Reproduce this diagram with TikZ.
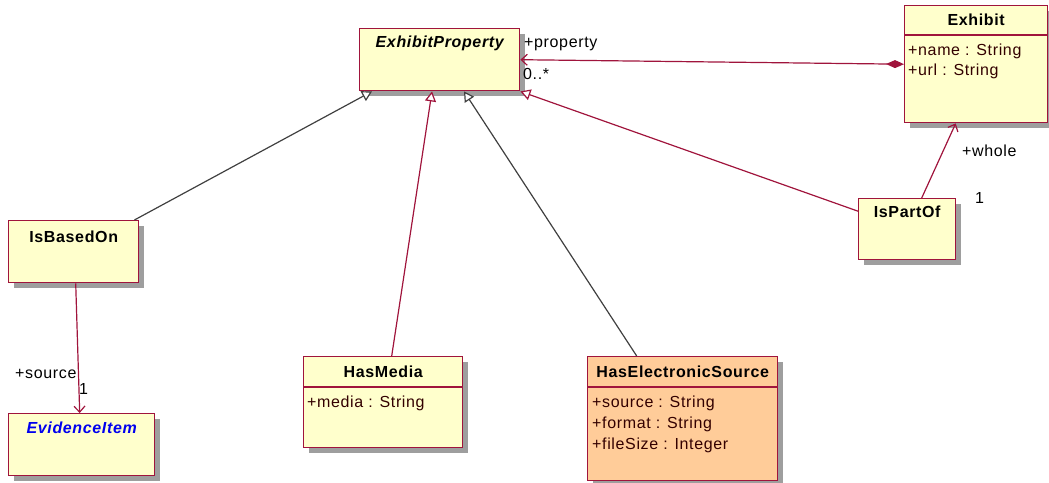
\documentclass[tikz,border=0pt]{standalone}
\usepackage{fontspec}
\setmainfont{Liberation Sans}[LetterSpace=4]
\usetikzlibrary{arrows.meta,shadows,calc}
\definecolor{umlred}{HTML}{A0143C}
\definecolor{umlfill}{HTML}{FFFFCC}
\definecolor{umlorange}{HTML}{FFCC99}
\definecolor{umlgray}{HTML}{404040}
\definecolor{umlblue}{HTML}{0000EE}
\definecolor{umltext}{HTML}{330000}
\begin{document}
\begin{tikzpicture}[x=1pt,y=-1pt,
  font=\fontsize{16}{19}\selectfont,
  cls/.style={draw=umlred, line width=1.4pt, fill=umlfill, anchor=north west, inner sep=0pt,
    drop shadow={shadow xshift=5pt,shadow yshift=-5pt,fill=black!38,opacity=1}},
  ttl/.style={anchor=base, inner sep=0pt, font=\fontsize{16}{19}\selectfont\bfseries},
  attr/.style={anchor=base west, inner sep=0pt, text=umltext},
  lbl/.style={anchor=base west, inner sep=0pt},
  sep/.style={draw=umlred, line width=1.2pt},
  gen/.style={line width=1.2pt, -{Triangle[length=10pt,width=11pt,fill=white]}},
  nav/.style={line width=1.2pt, draw=umlred, -{Straight Barb[length=6pt,width=11pt]}},
  comp/.style={line width=1.2pt, draw=umlred, {Straight Barb[length=6pt,width=11pt]}-{Diamond[length=18pt,width=8pt,fill=umlred]}}
]
\useasboundingbox (0,0) rectangle (1049,482);

% classes
\node[cls, minimum width=160pt, minimum height=62pt] (ep) at (359,28) {};
\node[cls, minimum width=143pt, minimum height=117pt] (ex) at (904,5) {};
\node[cls, minimum width=97pt, minimum height=61pt] (ip) at (858,198) {};
\node[cls, minimum width=130pt, minimum height=62pt] (ib) at (8,220) {};
\node[cls, minimum width=146pt, minimum height=62pt] (ei) at (8,413) {};
\node[cls, minimum width=159pt, minimum height=91pt] (hm) at (303,356) {};
\node[cls, minimum width=190pt, minimum height=124pt, fill=umlorange] (hes) at (587,356) {};

% compartments
\draw[sep] (ex.west |- 0,35) -- (ex.east |- 0,35);
\draw[sep] (hm.west |- 0,387) -- (hm.east |- 0,387);
\draw[sep] (hes.west |- 0,387) -- (hes.east |- 0,387);

% titles
\node[ttl, font=\fontsize{16}{19}\selectfont\bfseries\itshape] (ept) at (ep.north |- 0,47) {ExhibitProperty};
\node[ttl] (ext) at (ex.north |- 0,25) {Exhibit};
\node[ttl] (ipt) at (ip.north |- 0,217) {IsPartOf};
\node[ttl] (ibt) at (ib.north |- 0,242) {IsBasedOn};
\node[ttl, text=umlblue, font=\fontsize{16}{19}\selectfont\bfseries\itshape] (eit) at (ei.north |- 0,433) {EvidenceItem};
\node[ttl] (hmt) at (hm.north |- 0,377) {HasMedia};
\node[ttl] (hest) at (hes.north |- 0,377) {HasElectronicSource};

% attributes
\node[attr] (exa1) at (908,55) {+name : String};
\node[attr] (exa2) at (908,75) {+url : String};
\node[attr] (hma1) at (307,407) {+media : String};
\node[attr] (hesa1) at (592,407) {+source : String};
\node[attr] (hesa2) at (592,428) {+format : String};
\node[attr] (hesa3) at (592,449) {+fileSize : Integer};

% generalizations
\draw[gen, draw=umlgray] ([xshift=-5pt]ib.north east) -- ([xshift=13pt]ep.south west);
\draw[gen, draw=umlred] ([xshift=8.5pt]hm.north) -- ([xshift=73pt]ep.south west);
\draw[gen, draw=umlgray] ([xshift=-46pt]hes.north) -- ([xshift=105pt]ep.south west);
\draw[gen, draw=umlred] ([yshift=18pt]ip.west) -- (ep.south east);

% associations
\draw[comp] (ep.east) -- (ex.west);
\draw[nav] ([xshift=14.5pt]ip.north) -- ([xshift=-20.5pt]ex.south);
\draw[nav] ([xshift=2pt]ib.south) -- ([xshift=-2pt]ei.north);

% labels
\node[lbl] (lprop) at (524,47) {+property};
\node[lbl] (lmany) at (523,79) {0..*};
\node[lbl] (lwhole) at (962,156) {+whole};
\node[lbl] (lone1) at (975,203) {1};
\node[lbl] (lsrc) at (15,378) {+source};
\node[lbl] (lone2) at (79,394) {1};
\end{tikzpicture}
\end{document}
